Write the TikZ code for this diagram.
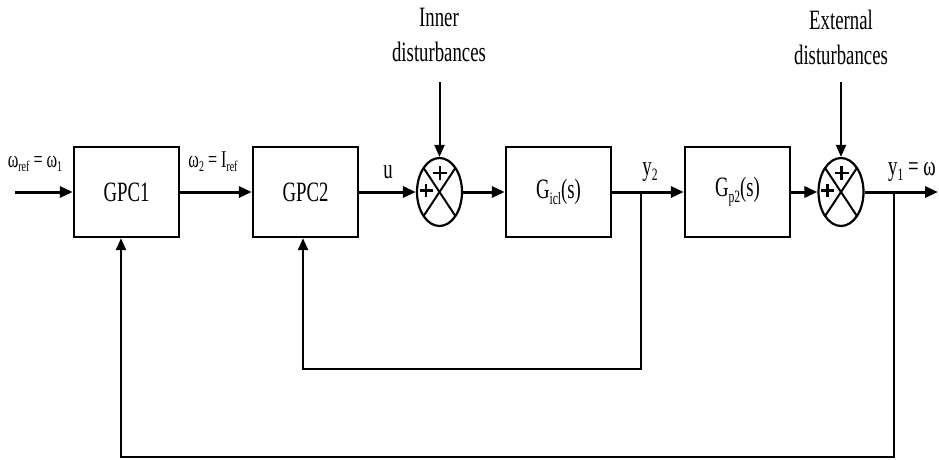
\documentclass[tikz,border=0pt]{standalone}
\usepackage{fontspec}
\setmainfont{Liberation Serif}[FakeStretch=0.67]
\usetikzlibrary{shapes.geometric,arrows.meta,calc}
\newcommand\lsub[1]{\raisebox{-0.45ex}{\scalebox{0.62}{#1}}}
\begin{document}
\begin{tikzpicture}[x=1pt,y=1pt,
 blk/.style={draw,line width=2.4pt,minimum width=105pt,minimum height=90pt,inner sep=0pt,font=\fontsize{28}{30}\selectfont},
 summer/.style={ellipse,draw,line width=2.2pt,minimum width=45pt,minimum height=68pt,inner sep=0pt},
 sig/.style={line width=3pt,-{Triangle[length=13pt,width=11pt]}},
 fbk/.style={line width=2pt,-{Triangle[length=12pt,width=10pt]}},
 dist/.style={line width=2pt,-{Triangle[length=12pt,width=10pt]}},
 lbl/.style={anchor=base,inner sep=0pt,font=\fontsize{28}{30}\selectfont},
 sml/.style={anchor=base,inner sep=0pt,font=\fontsize{24}{26}\selectfont},
 pl/.style={line width=2.6pt},
 xl/.style={line width=2pt}]
\useasboundingbox (0,0) rectangle (939,459);
\node[blk] (g1) at (126.5,267) {GPC1};
\node[blk] (g2) at (305.5,267) {GPC2};
\node[summer] (s1) at (439.5,267) {};
\node[blk] (g3) at (558.5,267) {G\lsub{icl}(s)};
\node[blk] (g4) at (737.5,267) {G\lsub{p2}(s)};
\node[summer] (s2) at (841,267) {};
\coordinate (in) at (15,267);
\coordinate (out) at (938,267);
\coordinate (b1) at (641,267);
\coordinate (b2) at (894,267);
\coordinate (f1) at (641,90);
\coordinate (f2) at (894,2);
\coordinate (d1) at (439.5,377);
\coordinate (d2) at (841,377);
% X and plus signs in summers
\foreach \s in {s1,s2}{
  \draw[xl] ($(\s.center)+(-15.9,24)$) -- ($(\s.center)+(15.9,-24)$);
  \draw[xl] ($(\s.center)+(15.9,24)$) -- ($(\s.center)+(-15.9,-24)$);
  \draw[pl] ($(\s.center)+(0.5,12)$) -- ($(\s.center)+(0.5,26)$);
  \draw[pl] ($(\s.center)+(-6.5,19)$) -- ($(\s.center)+(7.5,19)$);
  \draw[pl] ($(\s.center)+(-13.5,-5)$) -- ($(\s.center)+(-13.5,8)$);
  \draw[pl] ($(\s.center)+(-20,1.5)$) -- ($(\s.center)+(-7,1.5)$);
}
\draw[sig] (in) -- (g1);
\draw[sig] (g1) -- (g2);
\draw[sig] (g2) -- (s1);
\draw[sig] (s1) -- (g3);
\draw[sig] (g3) -- (g4);
\draw[sig] (g4) -- (s2);
\draw[sig] (s2) -- (out);
\draw[fbk] (b1) -- (f1) -| ($(g2.south)+(-2.5,0)$);
\draw[fbk] (b2) -- (f2) -| ($(g1.south)+(-5.5,0)$);
\draw[dist] (d1) -- (s1.north);
\draw[dist] (d2) -- (s2.north);
\node[lbl] (tin1) at (439,432) {Inner};
\node[lbl] (tin2) at (439,397) {disturbances};
\node[lbl] (te1) at (841,429) {External};
\node[lbl] (te2) at (841,394) {disturbances};
\node[lbl] (lu) at (388,281) {u};
\node[lbl] (ly2) at (650,284) {y\lsub{2}};
\node[lbl,anchor=base west] (ly1) at (888,284) {y\lsub{1} = ω};
\node[sml] (lw1) at (35,292) {ω\lsub{ref} = ω\lsub{1}};
\node[sml] (lw2) at (213,292) {ω\lsub{2} = I\lsub{ref}};
\end{tikzpicture}
\end{document}
